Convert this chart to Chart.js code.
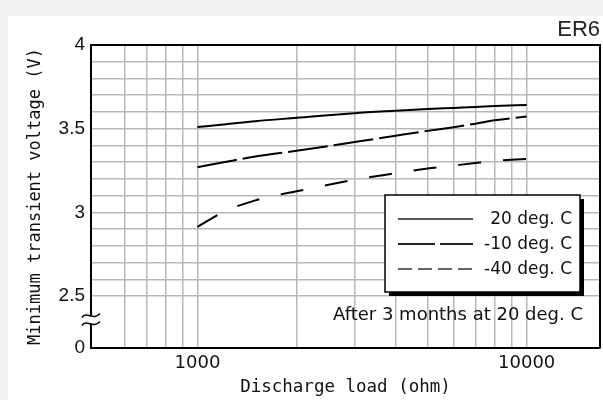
<!DOCTYPE html>
<html>
<head>
<meta charset="utf-8">
<script src="https://cdn.jsdelivr.net/npm/chart.js@4.4.0/dist/chart.umd.min.js"></script>
<style>
  html, body { margin: 0; padding: 0; background: #f0f0f0; }
  #panel { position: absolute; left: 8px; top: 16px; width: 595px; height: 384px; background: #fff; }
</style>
</head>
<body>
<div id="panel"><canvas id="myChart" width="595" height="384"></canvas></div>
<script>
// discharge load (ohm) and minimum transient voltage (V)
const loads = [1000, 1200, 1500, 2000, 3000, 4000, 5000, 6000, 7000, 8000, 10000];
const volt20 = [3.51, 3.525, 3.545, 3.565, 3.593, 3.607, 3.617, 3.624, 3.63, 3.635, 3.642];
const voltMinus10 = [3.27, 3.299, 3.334, 3.368, 3.42, 3.458, 3.487, 3.509, 3.53, 3.55, 3.573];
const voltMinus40 = [2.914, 3.003, 3.072, 3.126, 3.195, 3.234, 3.262, 3.28, 3.295, 3.307, 3.32];
const seriesLabels = ['20 deg. C', '-10 deg. C', '-40 deg. C'];

// grid and tick labels
const xGrid = [600, 700, 800, 900, 1000, 2000, 3000, 4000, 5000, 6000, 7000, 8000, 9000, 10000];
const xTickValues = [1000, 10000];
const xTickLabels = ['1000', '10000'];
const yBottom = 2.19; // axis is broken: bottom of the axis stands for 0
const yGrid = [2.5, 2.6, 2.7, 2.8, 2.9, 3.0, 3.1, 3.2, 3.3, 3.4, 3.5, 3.6, 3.7, 3.8, 3.9, 4.0];
const yTickValues = [yBottom, 2.5, 3, 3.5, 4];
const yTickLabels = ['0', '2.5', '3', '3.5', '4'];

const noteText = 'After 3 months at 20 deg. C';
const legendDash = [[], [37, 5], [14, 6]];
const legendColor = ['#555', '#222', '#666'];

const decor = {
  id: 'decor',
  beforeDatasetsDraw(chart) {
    const { ctx, chartArea: a } = chart;
    ctx.save();
    ctx.strokeStyle = '#000';
    ctx.lineWidth = 2;
    ctx.beginPath();
    ctx.moveTo(a.left, a.top);
    ctx.lineTo(a.right, a.top);
    ctx.lineTo(a.right, a.bottom);
    ctx.stroke();
    ctx.restore();
  },
  afterDraw(chart) {
    const { ctx, chartArea: a } = chart;
    ctx.save();

    // axis break mark
    const bx = a.left;
    const by = chart.scales.y.getPixelForValue(2.36);
    ctx.fillStyle = '#fff';
    ctx.fillRect(bx - 2, by - 4, 4, 8);
    ctx.strokeStyle = '#000';
    ctx.lineWidth = 1.5;
    [-4, 4].forEach(d => {
      ctx.beginPath();
      ctx.moveTo(bx - 9, by + d + 2);
      ctx.bezierCurveTo(bx - 4, by + d - 5, bx + 2, by + d + 6, bx + 9, by + d - 2);
      ctx.stroke();
    });

    // legend box with shadow
    const w = 195, h = 97;
    const right = a.right - 20, bottom = a.bottom - 56;
    const left = right - w, top = bottom - h;
    ctx.fillStyle = '#000';
    ctx.fillRect(left + 4, top + 4, w, h);
    ctx.fillStyle = '#fff';
    ctx.fillRect(left, top, w, h);
    ctx.lineWidth = 1.5;
    ctx.strokeRect(left, top, w, h);
    ctx.font = '17px "DejaVu Sans"';
    ctx.textAlign = 'right';
    ctx.textBaseline = 'middle';
    chart.data.datasets.forEach((ds, i) => {
      const y = top + 24 + i * 25;
      ctx.strokeStyle = legendColor[i];
      ctx.lineWidth = 2;
      ctx.setLineDash(legendDash[i]);
      ctx.beginPath();
      ctx.moveTo(left + 13, y);
      ctx.lineTo(left + 88, y);
      ctx.stroke();
      ctx.setLineDash([]);
      ctx.fillStyle = '#111';
      ctx.fillText(ds.label, right - 8, y + 1);
    });

    // note under the legend
    ctx.font = '18px "DejaVu Sans"';
    ctx.fillText(noteText, a.right - 17, a.bottom - 33);
    ctx.restore();
  }
};

const lineStyle = (dash) => ({
  borderColor: '#000',
  borderWidth: 2,
  borderDash: dash,
  pointRadius: 0,
  fill: false,
  cubicInterpolationMode: 'monotone'
});

new Chart(document.getElementById('myChart'), {
  type: 'line',
  data: {
    datasets: [
      { label: seriesLabels[0], data: loads.map((x, i) => ({ x, y: volt20[i] })), ...lineStyle([]) },
      { label: seriesLabels[1], data: loads.map((x, i) => ({ x, y: voltMinus10[i] })), ...lineStyle([40, 6]) },
      { label: seriesLabels[2], data: loads.map((x, i) => ({ x, y: voltMinus40[i] })), ...lineStyle([23, 22]) }
    ]
  },
  options: {
    responsive: false,
    animation: false,
    layout: { padding: { left: 0, right: 3, top: 0, bottom: 0 } },
    plugins: {
      legend: { display: false },
      tooltip: { enabled: false },
      title: {
        display: true,
        text: 'ER6',
        align: 'end',
        color: '#222',
        font: { family: 'Liberation Sans', size: 22, weight: 'normal' },
        padding: { top: 1, bottom: 1.6 }
      }
    },
    scales: {
      x: {
        type: 'logarithmic',
        min: 475,
        max: 16700,
        afterBuildTicks: s => { s.ticks = xGrid.map(v => ({ value: v })); },
        afterFit: s => { s.height = 52; },
        grid: { color: '#b8b8b8', lineWidth: 1.5, drawTicks: false },
        border: { color: '#000', width: 2 },
        ticks: {
          autoSkip: false,
          maxRotation: 0,
          padding: 5,
          color: '#111',
          font: { family: 'DejaVu Sans', size: 18 },
          callback: v => { const i = xTickValues.indexOf(v); return i < 0 ? '' : xTickLabels[i]; }
        },
        title: {
          display: true,
          text: 'Discharge load (ohm)',
          color: '#111',
          font: { family: 'DejaVu Sans Mono', size: 17.5 },
          padding: { top: 0, bottom: 2 }
        }
      },
      y: {
        type: 'linear',
        min: yBottom,
        max: 4,
        afterBuildTicks: s => { s.ticks = [yBottom, ...yGrid].map(v => ({ value: v })); },
        afterFit: s => { s.width = 83; },
        grid: {
          color: c => (c.tick && c.tick.value < 2.4 ? 'rgba(0,0,0,0)' : '#b8b8b8'),
          lineWidth: 1.5,
          drawTicks: false
        },
        border: { color: '#000', width: 2 },
        ticks: {
          autoSkip: false,
          padding: 6,
          color: '#111',
          font: { family: 'Liberation Sans', size: 19 },
          callback: v => { const i = yTickValues.indexOf(v); return i < 0 ? '' : yTickLabels[i]; }
        },
        title: {
          display: true,
          text: 'Minimum transient voltage (V)',
          color: '#111',
          font: { family: 'DejaVu Sans Mono', size: 17 },
          padding: { top: 17, bottom: 0 }
        }
      }
    }
  },
  plugins: [decor]
});
</script>
</body>
</html>
